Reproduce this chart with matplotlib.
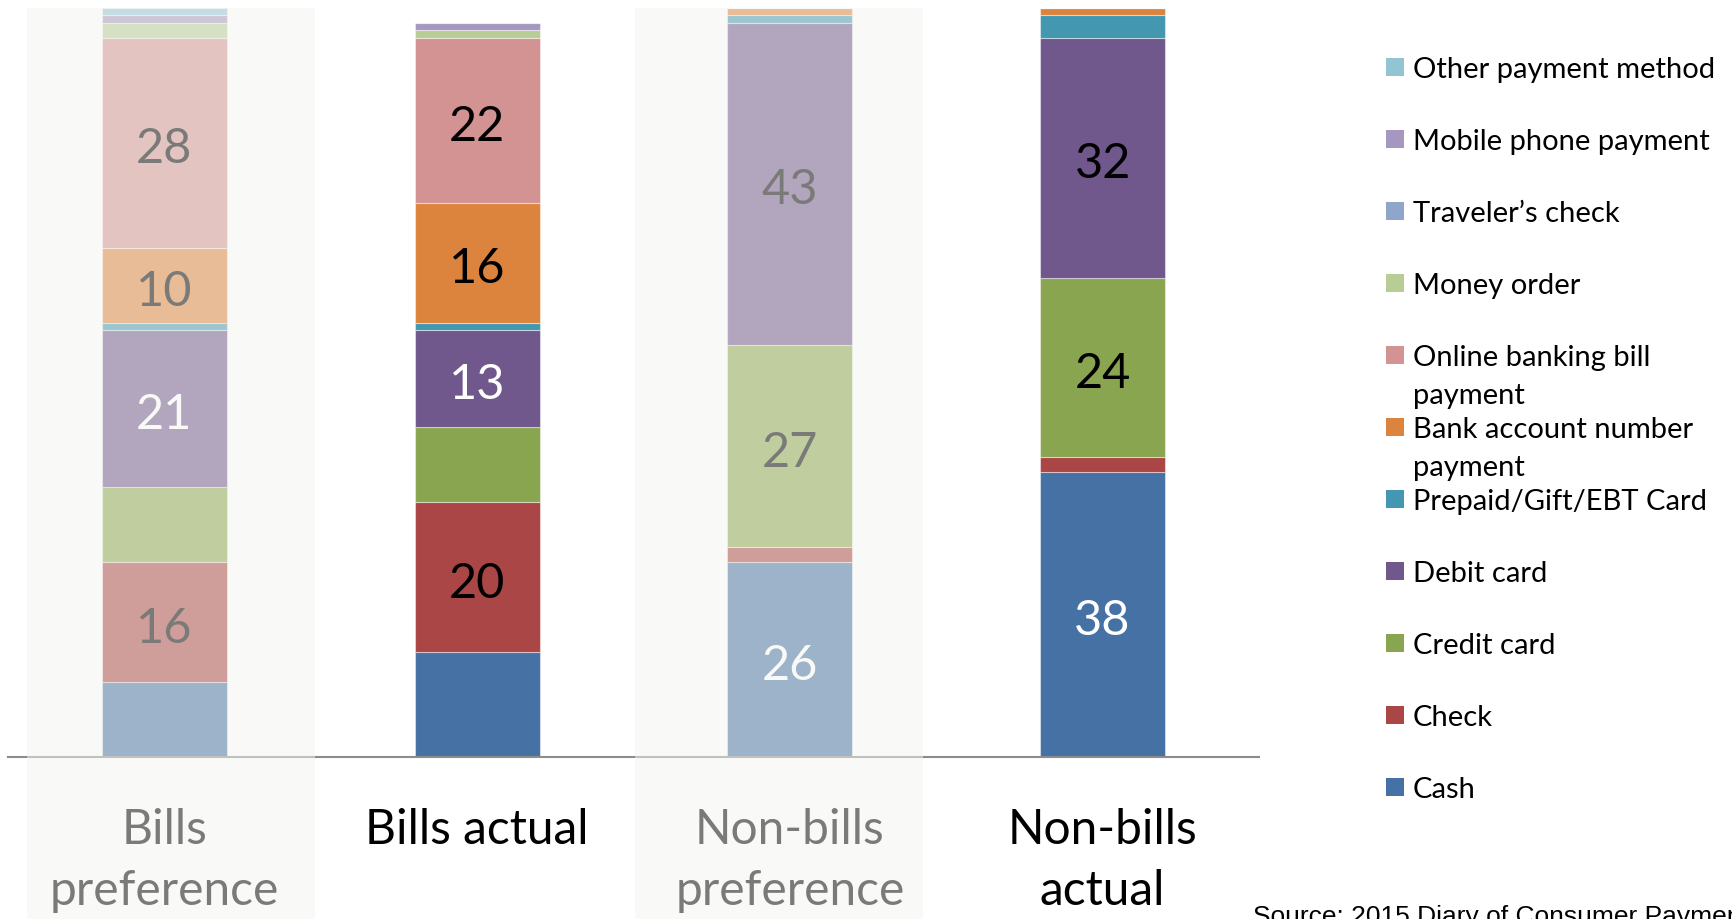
import matplotlib
matplotlib.use("Agg")
import matplotlib.pyplot as plt
from matplotlib.patches import Rectangle

plt.rcParams['font.family'] = ['Lato', 'DejaVu Sans']

# --- data (percent of payments, stacked bottom -> top in `methods` order) ---
categories = ['Bills\npreference', 'Bills actual', 'Non-bills\npreference', 'Non-bills\nactual']
methods = ['Cash', 'Check', 'Credit card', 'Debit card', 'Prepaid/Gift/EBT Card',
           'Bank account number\npayment', 'Online banking bill\npayment', 'Money order',
           'Traveler\u2019s check', 'Mobile phone payment', 'Other payment method']
colors = ['#4571A5', '#AA4645', '#8AA54F', '#70578C', '#4397B0', '#DC843E',
          '#D29392', '#B8CD96', '#8EA6CB', '#A597BF', '#93C4D4']

bills_pref = [10, 16, 10, 21, 1, 10, 28, 2, 0, 1, 1]
bills_act = [14, 20, 10, 13, 1, 16, 22, 1, 0, 1, 0]
nonbills_pref = [26, 2, 27, 43, 1, 1, 0, 0, 0, 0, 0]
nonbills_act = [38, 2, 24, 32, 3, 1, 0, 0, 0, 0, 0]
values = [bills_pref, bills_act, nonbills_pref, nonbills_act]

# segments that get a number, per bar (index into methods)
labelled = [[1, 3, 5, 6], [1, 3, 5, 6], [0, 2, 3], [0, 2, 3]]
white_text = [[3], [3], [0], [0]]  # which of those numbers are white
faded = [0, 2]                     # preference columns are greyed out

source = 'Source: 2015 Diary of Consumer Payment Choice'

W, H = 1733, 920
fig = plt.figure(figsize=(W / 100, H / 100), dpi=100)
ax = fig.add_axes([8 / W, 1 - 758 / H, 1251 / W, 749 / H])
ax.set_facecolor('none')

x = list(range(len(categories)))
bottom = [0] * len(categories)
for j, m in enumerate(methods):
    vals = [v[j] for v in values]
    ax.bar(x, vals, 0.4, bottom=bottom, color=colors[j],
           edgecolor=(1, 1, 1, 0.45), linewidth=0.8)
    bottom = [b + v for b, v in zip(bottom, vals)]

for i, v in enumerate(values):
    cum = 0
    for j, val in enumerate(v):
        if j in labelled[i]:
            ax.annotate(str(val), (i, cum + val / 2), xytext=(0, -14),
                        textcoords='offset points', ha='center', va='baseline',
                        fontsize=35, color='white' if j in white_text[i] else 'black')
        cum += val

ax.set_xlim(-0.5, 3.5)
ax.set_ylim(0, 100)
ax.set_xticks([])
ax.set_yticks([])
for s in ['left', 'right', 'top']:
    ax.spines[s].set_visible(False)
ax.spines['bottom'].set_color('#8C8C8C')
ax.spines['bottom'].set_linewidth(1.5)

# category labels under the bars
for i, cat in enumerate(categories):
    xc = (8 + (i + 0.5) * 1251 / 4) / W
    for n, line in enumerate(cat.split('\n')):
        fig.text(xc, 1 - (844 + 61 * n) / H, line, ha='center', va='baseline',
                 fontsize=34.5, color='black')

# semi-transparent panels over the preference columns
band_px = {0: (27, 315), 2: (635, 923)}
for i in faded:
    x0, x1 = band_px[i]
    fig.add_artist(Rectangle((x0 / W, 0), (x1 - x0) / W, 1 - 9 / H,
                             transform=fig.transFigure, facecolor='#F5F5F0',
                             alpha=0.5, edgecolor='none', zorder=10))

# legend, top entry = top of stack
for k, j in enumerate(reversed(range(len(methods)))):
    yc = 68 + 72 * k
    fig.add_artist(Rectangle((1386 / W, 1 - (yc + 9) / H), 18 / W, 18 / H,
                             transform=fig.transFigure, facecolor=colors[j],
                             edgecolor='none'))
    for n, line in enumerate(methods[j].split('\n')):
        fig.text(1413 / W, 1 - (yc + 10 + 38 * n) / H, line, ha='left',
                 va='baseline', fontsize=21, color='black')

fig.text(1253 / W, -4 / H, source, family='Liberation Sans', fontsize=19,
         ha='left', va='baseline', color='black')

fig.savefig('out.png', dpi=100)
